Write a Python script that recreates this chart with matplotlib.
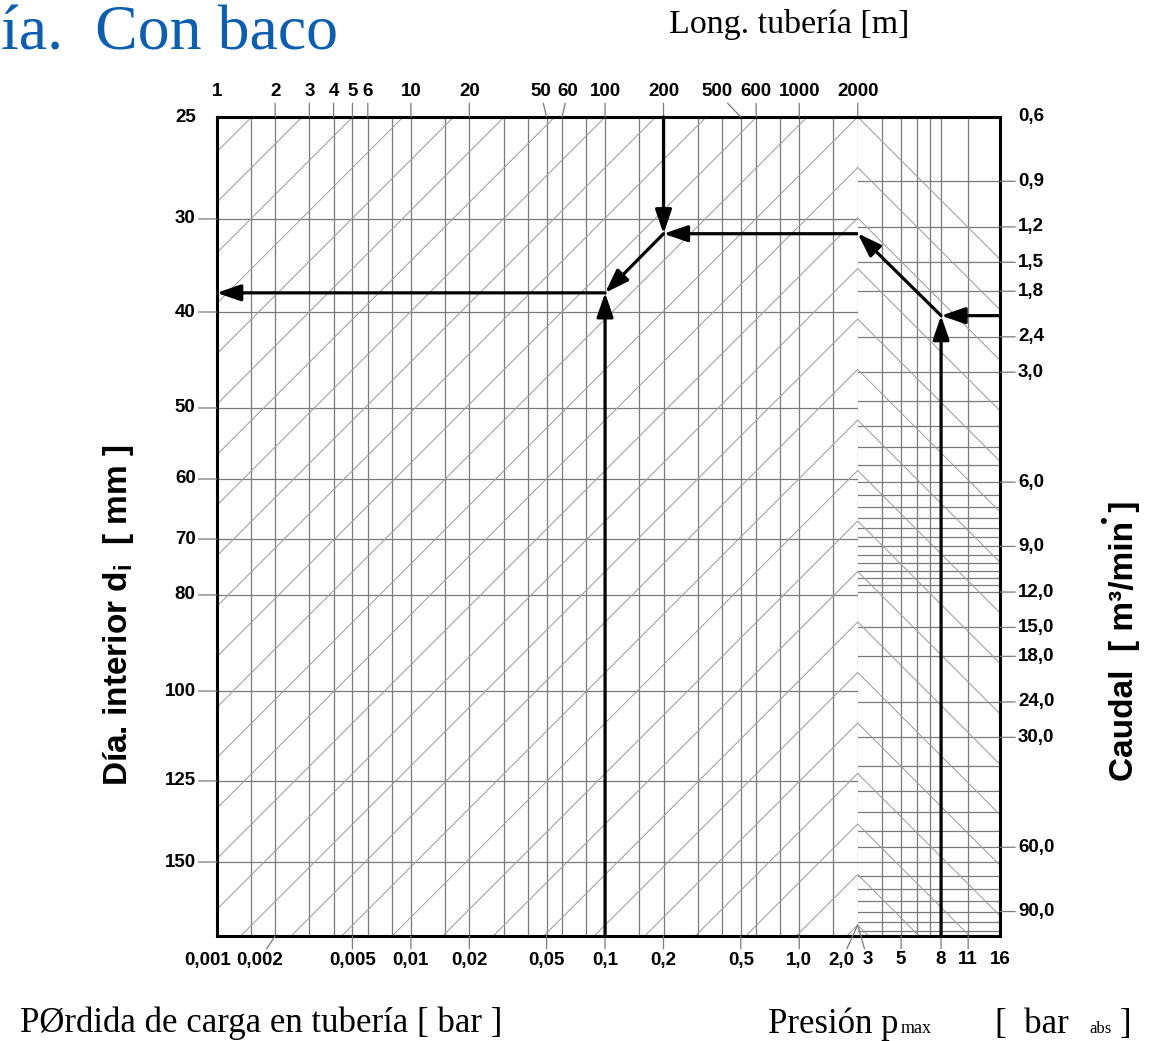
import numpy as np
import matplotlib
matplotlib.use("Agg")
import matplotlib.pyplot as plt
from matplotlib.ticker import NullLocator
from matplotlib.transforms import blended_transform_factory as blend

# ---------------- data ----------------
LEN_GRID = [1.5, 2, 3, 4, 5, 6, 8, 10, 15, 20, 30, 40, 50, 60, 80, 100, 150, 200,
            300, 400, 500, 600, 800, 1000, 1500, 2000]
LEN_LABEL_VALUES = [1, 2, 3, 4, 5, 6, 10, 20, 50, 60, 100, 200, 500, 600, 1000, 2000]
LEN_LABELS = ["1", "2", "3", "4", "5", "6", "10", "20", "50", "60", "100", "200",
              "500", "600", "1000", "2000"]

DIA_TICKS = [25, 30, 40, 50, 60, 70, 80, 100, 125, 150]
DIA_LABELS = ["25", "30", "40", "50", "60", "70", "80", "100", "125", "150"]

LOSS_VALUES = [0.001, 0.002, 0.005, 0.01, 0.02, 0.05, 0.1, 0.2, 0.5, 1.0, 2.0]
LOSS_LABELS = ["0,001", "0,002", "0,005", "0,01", "0,02", "0,05", "0,1", "0,2",
               "0,5", "1,0", "2,0"]

PRESS_GRID = [3, 4, 5, 6, 7, 8, 11, 16]
PRESS_LABEL_VALUES = [3, 5, 8, 11, 16]
PRESS_LABELS = ["3", "5", "8", "11", "16"]

FLOW_GRID = [0.9, 1.2, 1.5, 1.8, 2.4, 3.0, 3.6, 4.2, 4.8, 5.4, 6.0, 6.5, 7.0, 7.5,
             8.0, 8.5, 9.0, 9.5, 10, 10.5, 11, 11.5, 12, 15, 18, 24, 30, 36, 42,
             48, 54, 60, 66, 72, 78, 84, 90, 96, 102]
FLOW_LABEL_VALUES = [0.6, 0.9, 1.2, 1.5, 1.8, 2.4, 3.0, 6.0, 9.0, 12, 15, 18, 24,
                     30, 60, 90]
FLOW_LABELS = ["0,6", "0,9", "1,2", "1,5", "1,8", "2,4", "3,0", "6,0", "9,0",
               "12,0", "15,0", "18,0", "24,0", "30,0", "60,0", "90,0"]

# worked example of the nomogram
EX_FLOW = 2.1          # m3/min
EX_PRESS = 8           # bar abs
EX_FLOW_AT_2000 = 1.25 # reference line after pressure correction
EX_DIA_REF = 31.4      # same reference line on the diameter side
EX_LEN = 200           # m
EX_LOSS = 0.1          # bar
EX_DIA = 37.7          # mm result

# scale ranges
LEN_RANGE = (1, 2000)
PRESS_RANGE = (3, 16)
FLOW_RANGE = (105, 0.6)
LOSS_PER_LEN = 0.001   # 1 m on top scale <-> 0.001 bar on bottom scale

# irregular printed diameter scale (relative position from top to bottom)
DIA_SCALE = [25, 30, 40, 50, 60, 70, 80, 100, 125, 150, 177]
DIA_SCALE_POS = [0.0, 0.1245, 0.2381, 0.3553, 0.4420, 0.5153, 0.5836, 0.7009,
                 0.8107, 0.9097, 1.0]

# ---------------- style / layout ----------------
W, H, DPI = 1153, 1041, 100
X0, XB, X1 = 216.7, 857.7, 1000.0
Y0, Y1 = 117.0, 936.0
GRID_C = "#7a7a7a"
DIAG_C = "#9e9e9e"
GRID_LW = 0.9
DIAG_LW = 0.75
FRAME_LW = 2.2
DIAG_STEP_PX = 50.5
NUM_FS = 13.5

plt.rcParams["font.family"] = ["Liberation Sans", "DejaVu Sans"]
plt.rcParams["mathtext.fontset"] = "custom"
plt.rcParams["mathtext.rm"] = "Liberation Sans"
plt.rcParams["mathtext.bf"] = "Liberation Sans:bold"

fig = plt.figure(figsize=(W / DPI, H / DPI), dpi=DPI)
fig.patch.set_facecolor("white")


def fr(x0, y0, x1, y1):
    return [x0 / W, 1 - y1 / H, (x1 - x0) / W, (y1 - y0) / H]


ax = fig.add_axes(fr(X0, Y0, XB, Y1))
axr = fig.add_axes(fr(XB, Y0, X1, Y1))

LOG_DIA = np.log10(DIA_SCALE)


def dia_fwd(d):
    d = np.clip(np.asarray(d, dtype=float), 1e-6, None)
    return np.interp(np.log10(d), LOG_DIA, DIA_SCALE_POS)


def dia_inv(t):
    return 10 ** np.interp(np.asarray(t, dtype=float), DIA_SCALE_POS, LOG_DIA)


ax.set_xscale("log")
ax.set_xlim(*LEN_RANGE)
ax.set_yscale("function", functions=(dia_fwd, dia_inv))
ax.set_ylim(DIA_SCALE[-1], DIA_SCALE[0])

axr.set_xscale("log")
axr.set_xlim(*PRESS_RANGE)
axr.set_yscale("log")
axr.set_ylim(*FLOW_RANGE)

for a in (ax, axr):
    for axis in (a.xaxis, a.yaxis):
        axis.set_major_locator(NullLocator())
        axis.set_minor_locator(NullLocator())
    a.set_facecolor("white")
    for s in a.spines.values():
        s.set_linewidth(FRAME_LW)
        s.set_color("black")
ax.spines["right"].set_visible(False)
axr.spines["left"].set_visible(False)

# ---------------- grid ----------------
for L in LEN_GRID:
    ax.axvline(L, color=GRID_C, lw=GRID_LW, zorder=1, clip_on=(L != LEN_RANGE[1]))
for d in DIA_TICKS[1:]:
    ax.axhline(d, color=GRID_C, lw=GRID_LW, zorder=1)
for p in PRESS_GRID[1:-1]:
    axr.axvline(p, color=GRID_C, lw=GRID_LW, zorder=1)
for q in FLOW_GRID:
    axr.axhline(q, color=GRID_C, lw=GRID_LW, zorder=1)

# diagonal construction lines (45 degrees on the sheet)
wl, hh, wr = XB - X0, Y1 - Y0, X1 - XB
step = DIAG_STEP_PX / hh
for j in range(-12, 17):
    ay0 = 1 - j * step
    xs = np.array([-0.2, 1.0])
    ax.plot(xs, ay0 + (xs - 1.0) * (wl / hh), transform=ax.transAxes,
            color=DIAG_C, lw=DIAG_LW, zorder=1)
    if j >= 0:
        xr = np.array([0.0, 1.0])
        axr.plot(xr, ay0 - xr * (wr / hh), transform=axr.transAxes,
                 color=DIAG_C, lw=DIAG_LW, zorder=1)
peak_bottom = 1 - 16 * step

# ---------------- scale labels ----------------
num_kw = dict(fontsize=NUM_FS, fontweight="bold", color="black",
              textcoords="offset pixels", annotation_clip=False)
lead = dict(arrowstyle="-", lw=GRID_LW, color=GRID_C, shrinkA=0, shrinkB=0)

top_dx = {"50": -6, "60": 6, "500": -24}
tr_top = blend(ax.transData, ax.transAxes)
for v, lab in zip(LEN_LABEL_VALUES, LEN_LABELS):
    ax.annotate(lab, xy=(v, 1.0), xycoords=tr_top, xytext=(top_dx.get(lab, 0), 25),
                ha="center", va="center",
                arrowprops=None if v == LEN_RANGE[0] else lead, **num_kw)

tr_left = blend(ax.transAxes, ax.transData)
for v, lab in zip(DIA_TICKS, DIA_LABELS):
    ax.annotate(lab, xy=(0.0, v), xycoords=tr_left, xytext=(-21, 0),
                ha="right", va="center",
                arrowprops=None if v == DIA_TICKS[0] else lead, **num_kw)

tr_right = blend(axr.transAxes, axr.transData)
for v, lab in zip(FLOW_LABEL_VALUES, FLOW_LABELS):
    axr.annotate(lab, xy=(1.0, v), xycoords=tr_right, xytext=(18, 0),
                 ha="left", va="center",
                 arrowprops=None if v == FLOW_RANGE[1] else lead, **num_kw)

bot_dx = {"0,001": -9, "0,002": -16, "2,0": -16}
for v, lab in zip(LOSS_VALUES, LOSS_LABELS):
    L = v / LOSS_PER_LEN
    y_end = peak_bottom if L == LEN_RANGE[1] else 0.0
    ax.annotate(lab, xy=(L, y_end), xycoords=tr_top,
                xytext=(bot_dx.get(lab, 0), -24 - y_end * hh),
                ha="center", va="center",
                arrowprops=None if L == LEN_RANGE[0] else lead, **num_kw)

tr_bot_r = blend(axr.transData, axr.transAxes)
for v, lab in zip(PRESS_LABEL_VALUES, PRESS_LABELS):
    if v == PRESS_RANGE[0]:
        axr.annotate(lab, xy=(v, peak_bottom), xycoords=tr_bot_r,
                     xytext=(10, -24 - peak_bottom * hh), ha="center", va="center",
                     arrowprops=lead, **num_kw)
    else:
        axr.annotate(lab, xy=(v, 0.0), xycoords=tr_bot_r, xytext=(0, -24),
                     ha="center", va="center",
                     arrowprops=None if v == PRESS_RANGE[1] else lead, **num_kw)

# ---------------- worked example arrows ----------------
arr = dict(arrowstyle="-|>,head_length=1.45,head_width=0.5", mutation_scale=10,
           lw=2.3, color="black", shrinkA=0, shrinkB=0)


def arrow(a, start, end):
    a.annotate("", xy=end, xytext=start, xycoords="data", textcoords="data",
               arrowprops=arr, annotation_clip=False)


arrow(axr, (PRESS_RANGE[1], EX_FLOW), (EX_PRESS, EX_FLOW))
arrow(axr, (EX_PRESS, FLOW_RANGE[0]), (EX_PRESS, EX_FLOW))
arrow(axr, (EX_PRESS, EX_FLOW), (PRESS_RANGE[0], EX_FLOW_AT_2000))
arrow(ax, (LEN_RANGE[1], EX_DIA_REF), (EX_LEN, EX_DIA_REF))
arrow(ax, (EX_LEN, DIA_SCALE[0]), (EX_LEN, EX_DIA_REF))
arrow(ax, (EX_LEN, EX_DIA_REF), (EX_LOSS / LOSS_PER_LEN, EX_DIA))
arrow(ax, (EX_LOSS / LOSS_PER_LEN, DIA_SCALE[-1]), (EX_LOSS / LOSS_PER_LEN, EX_DIA))
arrow(ax, (EX_LOSS / LOSS_PER_LEN, EX_DIA), (LEN_RANGE[0], EX_DIA))

# ---------------- titles ----------------
def fx(x):
    return x / W


def fy(y):
    return 1 - y / H


fig.text(fx(118), fy(615), "Día. interior d$_\\mathbf{i}$  [ mm ]", rotation=90,
         ha="center", va="center", fontsize=24, fontweight="bold")
fig.text(fx(1124), fy(641), "Caudal  [ m³/min ]", rotation=90,
         ha="center", va="center", fontsize=24, fontweight="bold")
fig.text(fx(1103), fy(523), "•", ha="center", va="center", fontsize=16)

serif = ["Liberation Serif", "DejaVu Serif"]
fig.text(fx(1), fy(50), "ía.  Con baco", family=serif, fontsize=46,
         color="#0d5eae", ha="left", va="baseline")
fig.text(fx(789), fy(33), "Long. tubería [m]", family=serif, fontsize=24.5,
         ha="center", va="baseline")
fig.text(fx(20), fy(1032), "PØrdida de carga en tubería [ bar ]", family=serif,
         fontsize=25, ha="left", va="baseline")
fig.text(fx(768), fy(1033), "Presión p", family=serif, fontsize=25,
         ha="left", va="baseline")
fig.text(fx(901), fy(1033), "max", family=serif, fontsize=13,
         ha="left", va="baseline")
fig.text(fx(995), fy(1033), "[  bar", family=serif, fontsize=25,
         ha="left", va="baseline")
fig.text(fx(1089), fy(1033), "abs", family=serif, fontsize=12,
         ha="left", va="baseline")
fig.text(fx(1120), fy(1033), "]", family=serif, fontsize=25,
         ha="left", va="baseline")

fig.savefig("out.png", dpi=DPI, facecolor="white")
